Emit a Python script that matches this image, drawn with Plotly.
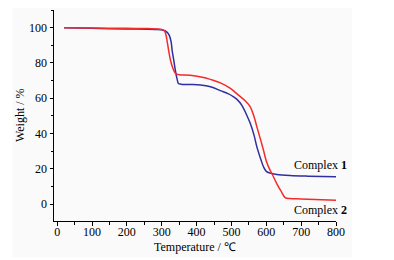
import plotly.graph_objects as go

# Complex 1 (blue)
t1 = [20, 100, 200, 280, 305, 315, 322, 327, 330, 335, 339, 344, 348, 355, 380, 411, 440,
      470, 490, 505, 516, 530, 545, 554, 565, 573, 585, 592, 600, 611, 630, 668, 720, 800]
w1 = [100, 99.6, 99.3, 99.0, 98.5, 97.5, 95.5, 92, 87, 81, 76, 71, 68.4, 68.0, 67.8, 67.5, 66.5,
      64.2, 62.6, 61.0, 59.4, 56, 50, 45.8, 39, 32.5, 25, 21.2, 18.6, 17.6, 16.9, 16.3, 15.9, 15.5]

# Complex 2 (red)
t2 = [20, 100, 200, 260, 300, 308, 312, 315, 320, 325, 332, 338, 342, 350, 382, 420, 439, 470,
      497, 520, 540, 554, 565, 573, 583, 592, 600, 611, 616, 630, 642, 654, 668, 700, 800]
w2 = [100, 99.8, 99.6, 99.5, 99.0, 98.2, 96, 93, 87, 81.7, 77, 74.5, 73.8, 73.3, 73.0, 71.8, 70.7,
      68.6, 65.6, 61.8, 58.5, 55.2, 49.5, 43.8, 37, 30.6, 24.5, 19.2, 17.4, 11.7, 7.5, 3.8, 3.2, 3.0, 2.3]

x_ticks = [0, 100, 200, 300, 400, 500, 600, 700, 800]
y_ticks = [0, 20, 40, 60, 80, 100]

FONT = "Times New Roman, Liberation Serif, serif"
BG = "#fafafa"

fig = go.Figure()
fig.add_trace(go.Scatter(x=t1, y=w1, mode="lines", line=dict(color="#2f2fa0", width=1.5),
                         line_shape="spline", showlegend=False))
fig.add_trace(go.Scatter(x=t2, y=w2, mode="lines", line=dict(color="#f52a2a", width=1.5),
                         line_shape="spline", showlegend=False))

axis_common = dict(showline=True, linecolor="black", linewidth=1, ticks="outside",
                   ticklen=3.5, tickwidth=1, tickcolor="black", showgrid=False, zeroline=False,
                   tickfont=dict(family=FONT, size=12, color="black"),
                   minor=dict(ticks="outside", ticklen=2.5, tickwidth=1, tickcolor="black"))

fig.update_xaxes(range=[-9, 800], tickvals=x_ticks, minor_dtick=50, ticklabelstandoff=-4,
                 **axis_common)
fig.update_yaxes(range=[-9.5, 110], tickvals=y_ticks, minor_dtick=10, **axis_common)

fig.add_annotation(x=755, y=22.1, xref="x", yref="y", text="Complex <b>1</b>", showarrow=False,
                   font=dict(family=FONT, size=12, color="black"))
fig.add_annotation(x=755, y=-3.4, xref="x", yref="y", text="Complex <b>2</b>", showarrow=False,
                   font=dict(family=FONT, size=12, color="black"))
fig.add_annotation(x=0.5, y=-0.122, xref="paper", yref="paper", text="Temperature / ℃",
                   showarrow=False, xanchor="center", yanchor="middle",
                   font=dict(family=FONT, size=12, color="black"))
fig.add_annotation(x=-0.122, y=0.5, xref="paper", yref="paper", text="Weight / %", textangle=-90,
                   showarrow=False, xanchor="center", yanchor="middle",
                   font=dict(family=FONT, size=12, color="black"))

fig.add_shape(type="rect", xref="paper", yref="paper", x0=-0.147, x1=1.057, y0=-0.172, y1=1.024,
              fillcolor=BG, line=dict(width=0), layer="below")

# the page body has an 8px margin, so the figure is drawn 8px in from the top-left
fig.update_layout(width=386, height=252, margin=dict(l=45.5, r=58, t=2, b=39.3),
                  paper_bgcolor="white", plot_bgcolor=BG)

fig.write_html("out.html")
